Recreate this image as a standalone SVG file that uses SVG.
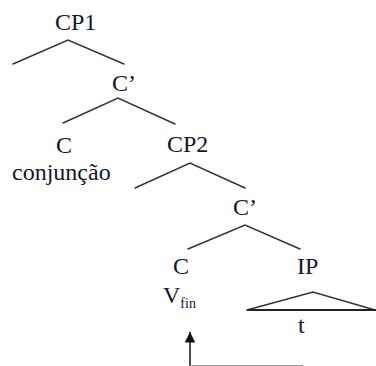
<svg xmlns="http://www.w3.org/2000/svg" width="376" height="366" viewBox="0 0 376 366">
<defs>
<style>
text{font-family:"Liberation Serif","Times New Roman",serif;font-size:24px;fill:#15152a}
.sub{font-size:14px}
.e{stroke:#333;stroke-width:1.5;fill:none;stroke-linecap:round}
.base{stroke:#222;stroke-width:2;fill:none}
.mv{stroke:#111;stroke-width:1.5;fill:none}
.mvh{stroke:#999;stroke-width:1.2;fill:none}
</style>
<marker id="ah" viewBox="0 0 10 10" refX="10" refY="5" markerWidth="8" markerHeight="7" orient="auto" markerUnits="strokeWidth">
<path d="M0,0 L10,5 L0,10 z" fill="#111"/>
</marker>
</defs>
<rect width="376" height="366" fill="#fff"/>
<g id="connectors">
<polyline class="e" points="13,64 68,40 124,64"/>
<polyline class="e" points="63,123 118,98 175,124"/>
<polyline class="e" points="135,188 190,163 245,188"/>
<polyline class="e" points="188,249 245,225 300,249"/>
<polyline class="e" points="247,310 313,292 375,310"/>
<line class="base" x1="247" y1="310" x2="376" y2="310"/>
<line class="mv" x1="190" y1="366" x2="190" y2="332" marker-end="url(#ah)"/>
<line class="mvh" x1="190" y1="365.5" x2="303" y2="365.5"/>
</g>
<g id="cp1"><text x="55" y="30">CP1</text></g>
<g id="c1bar"><text x="112" y="91">C’</text></g>
<g id="c1"><text x="56" y="153">C</text><text x="12" y="180">conjunção</text></g>
<g id="cp2"><text x="167" y="152">CP2</text></g>
<g id="c2bar"><text x="233" y="215">C’</text></g>
<g id="c2"><text x="173" y="274">C</text><text x="163" y="303">V<tspan class="sub" dy="5">fin</tspan></text></g>
<g id="ip"><text x="297" y="274">IP</text><text x="298" y="333">t</text></g>
</svg>
